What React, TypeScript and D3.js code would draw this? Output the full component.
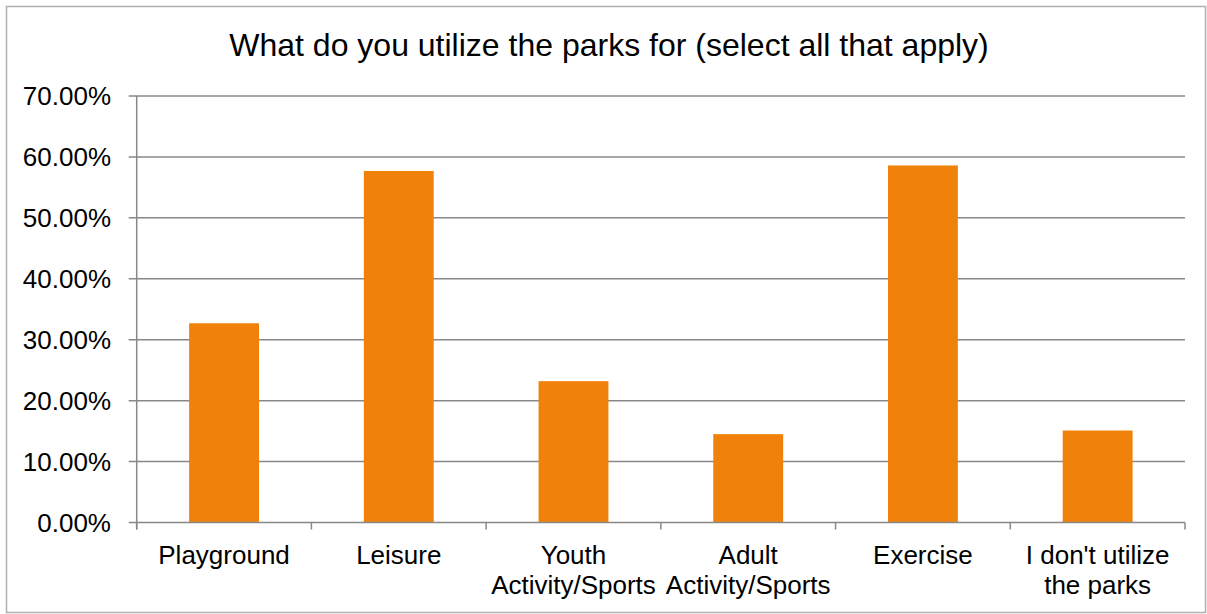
import React from "react";
import * as d3 from "d3";

const categories: string[][] = [
  ["Playground"],
  ["Leisure"],
  ["Youth", "Activity/Sports"],
  ["Adult", "Activity/Sports"],
  ["Exercise"],
  ["I don't utilize", "the parks"],
];
const values: number[] = [0.327, 0.577, 0.232, 0.145, 0.586, 0.151];
const yTicks: number[] = [0, 0.1, 0.2, 0.3, 0.4, 0.5, 0.6, 0.7];
const title = "What do you utilize the parks for (select all that apply)";

export default function App() {
  const W = 1207, H = 614;
  const left = 136.7, right = 1185, top = 96, bottom = 522.5;
  const x = d3.scaleBand<number>().domain(d3.range(categories.length)).range([left, right]).paddingInner(0.6).paddingOuter(0.3);
  const xb = d3.scaleBand<number>().domain(d3.range(categories.length)).range([left, right]);
  const y = d3.scaleLinear().domain([0, 0.7]).range([bottom, top]);
  const fmt = d3.format(".2%");
  const font = "'Liberation Sans', Arial, sans-serif";
  const grid = "#888888";
  return (
    <div style={{ position: "fixed", left: 0, top: 0 }}>
      <svg width={W} height={H} style={{ display: "block", background: "#fff" }} fontFamily={font}>
        <rect x={6.5} y={6.5} width={W - 8} height={H - 8} fill="#fff" stroke="#b0b0b0" strokeWidth={1.5} />
        <text x={609} y={56} textAnchor="middle" fontSize={32} fill="#000">{title}</text>
        {yTicks.map((t) => (
          <g key={t}>
            {t > 0 && <line x1={left - 8} x2={right} y1={y(t)} y2={y(t)} stroke={grid} strokeWidth={1.5} />}
            <text x={111} y={y(t) + 9} textAnchor="end" fontSize={26} fill="#000">{fmt(t)}</text>
          </g>
        ))}
        {values.map((v, i) => (
          <rect key={i} x={x(i)} y={y(v)} width={x.bandwidth()} height={bottom - y(v)} fill="#F0820C" />
        ))}
        <line x1={left} x2={left} y1={top} y2={bottom + 7} stroke={grid} strokeWidth={1.5} />
        <line x1={left - 8} x2={right} y1={bottom} y2={bottom} stroke={grid} strokeWidth={1.5} />
        {d3.range(categories.length + 1).map((i) => {
          const xx = i < categories.length ? (xb(i) as number) : right;
          return <line key={i} x1={xx} x2={xx} y1={bottom} y2={bottom + 7} stroke={grid} strokeWidth={1.5} />;
        })}
        {categories.map((lines, i) => (
          <text key={i} textAnchor="middle" fontSize={26} fill="#000">
            {lines.map((l, j) => (
              <tspan key={j} x={(xb(i) as number) + xb.bandwidth() / 2} y={564 + j * 30}>{l}</tspan>
            ))}
          </text>
        ))}
      </svg>
    </div>
  );
}
